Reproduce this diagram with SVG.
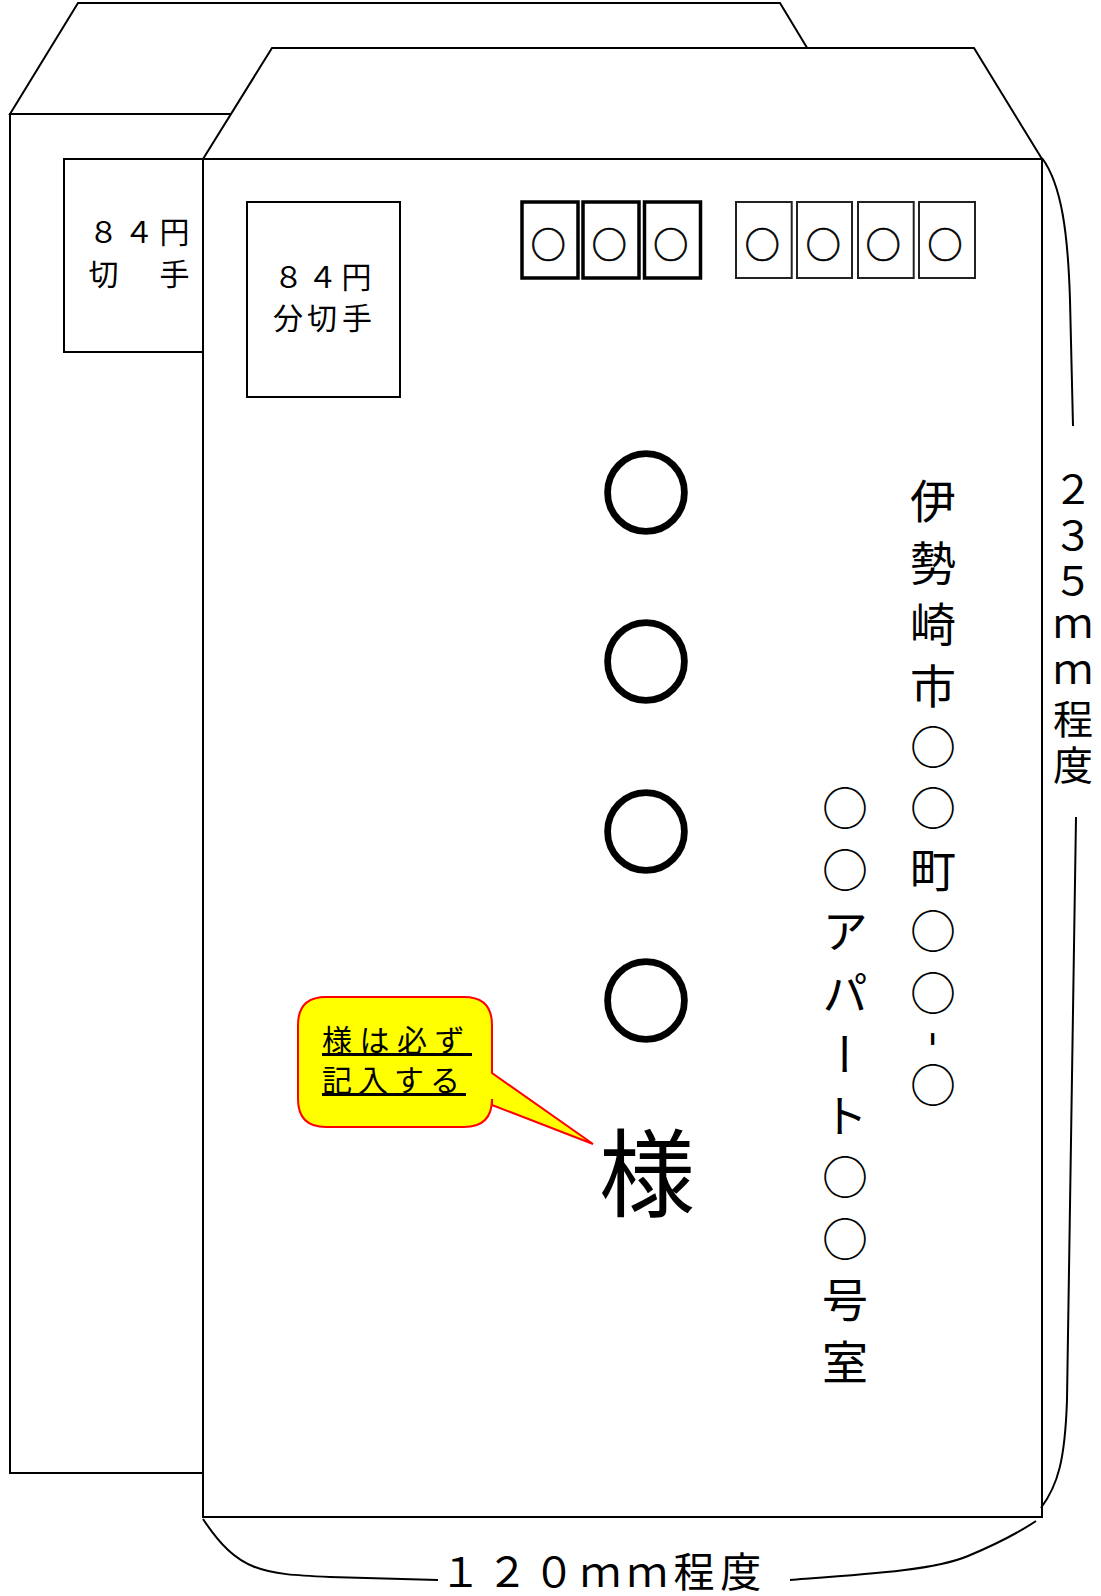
<svg xmlns="http://www.w3.org/2000/svg" width="1101" height="1596" viewBox="0 0 1101 1596">
<style>
.ln{fill:#fff;stroke:#000;stroke-width:2;stroke-linejoin:miter}
.br{fill:none;stroke:#000;stroke-width:2}
.t{font-family:"Noto Sans CJK JP","Noto Sans CJK SC",sans-serif;fill:#000}
.pc{fill:#fff;stroke:#000;stroke-width:3.5}
.pt{fill:#fff;stroke:#222;stroke-width:2}
.o{stroke:#000;stroke-width:0.7}
</style>
<rect width="1101" height="1596" fill="#fff"/>
<g id="back-envelope">
<polygon class="ln" points="10,114 78,3 780,3 847,114"/>
<rect class="ln" x="10" y="114" width="837" height="1359"/>
<rect class="ln" x="64" y="159" width="139" height="193"/>
<text class="t" font-size="30" text-anchor="middle" x="103.5 139 174.5" y="243">８４円</text>
<text class="t" font-size="30" text-anchor="middle" x="103.5 139 174.5" y="285">切　手</text>
</g>
<g id="front-envelope">
<polygon class="ln" points="203,159 272,48 974,48 1042,159"/>
<rect class="ln" x="203" y="159" width="839" height="1358"/>
</g>
<g id="stamp">
<rect class="ln" x="247" y="202" width="153" height="195"/>
<text class="t" font-size="30" text-anchor="middle" x="288.5 322.5 356.5" y="288">８４円</text>
<text class="t" font-size="30" text-anchor="middle" x="288 322 357" y="329">分切手</text>
</g>
<g id="postal-code">
<rect class="pc" x="522" y="202" width="56" height="76"/>
<rect class="pc" x="583" y="202" width="56" height="76"/>
<rect class="pc" x="644.5" y="202" width="56" height="76"/>
<rect class="pt" x="736" y="202" width="55.7" height="76"/>
<rect class="pt" x="797" y="202" width="55" height="76"/>
<rect class="pt" x="858" y="202" width="55.7" height="76"/>
<rect class="pt" x="919" y="202" width="56" height="76"/>
<text class="t o" font-size="35" text-anchor="middle" x="548.3 609.3 670.7" y="258.3">○○○</text>
<text class="t o" font-size="35" text-anchor="middle" x="762.3 823.3 883.3 945" y="258.3">○○○○</text>
</g>
<g id="recipient-name">
<text class="t" text-anchor="middle"><tspan font-size="89" stroke="#000" stroke-width="3.5" x="646 646 646 646" y="526.3 695.3 864.8 1033.8">○○○○</tspan><tspan font-size="96" x="647" y="1208.5">様</tspan></text>
</g>
<g id="address">
<text class="t" font-size="46" x="933" y="478" style="writing-mode:vertical-rl;letter-spacing:15.4px">伊勢崎市○○町○○<tspan dx="7">-</tspan><tspan dx="-7">○</tspan></text>
<text class="t" font-size="46" x="845" y="785" style="writing-mode:vertical-rl;letter-spacing:15.5px">○○アパート○○号室</text>
</g>
<g id="callout">
<path d="M326,997 H464 Q492,997 492,1025 V1073 L593,1144 L492,1105 V1099 Q492,1127 464,1127 H326 Q298,1127 298,1099 V1025 Q298,997 326,997 Z" fill="#ffff00" stroke="#ff0000" stroke-width="2"/>
<text class="t" font-size="30" x="322" y="1051" style="letter-spacing:7.5px;text-decoration:underline">様は必ず</text>
<text class="t" font-size="30" x="322" y="1091" style="letter-spacing:6px;text-decoration:underline">記入する</text>
</g>
<g id="dimensions">
<path class="br" d="M1042,158 C1062,185 1068,235 1070,300 L1073,426"/>
<path class="br" d="M1076,817 L1067,1400 C1065,1460 1058,1485 1041,1508"/>
<path class="br" d="M203,1519 C238,1572 262,1574 330,1577 L438,1580"/>
<path class="br" d="M790,1580 C870,1574 935,1570 968,1556 C992,1546 1015,1535 1036,1521"/>
<text class="t" font-size="40" x="1073" y="469" style="writing-mode:vertical-rl;letter-spacing:6px">２３５ｍｍ程度</text>
<text class="t" font-size="41" x="440" y="1587" style="letter-spacing:5.7px">１２０ｍｍ程度</text>
</g>
</svg>
